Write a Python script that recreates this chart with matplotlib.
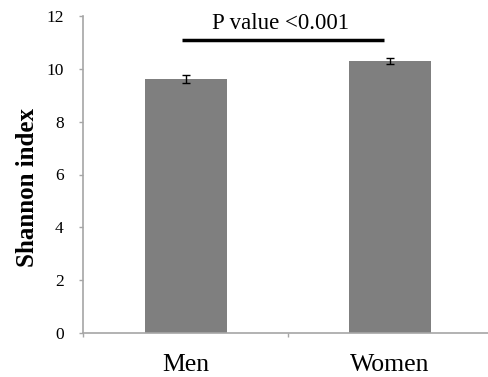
import matplotlib.pyplot as plt
import numpy as np

plt.rcParams['font.family'] = ['Liberation Serif', 'DejaVu Serif']

groups = ['Men', 'Women']
shannon = [9.6, 10.3]
err = [0.15, 0.12]
p_text = 'P value <0.001'

fig = plt.figure(figsize=(4.89, 3.77), dpi=100)
ax = fig.add_axes([83 / 489, 44 / 377, 406 / 489, 317 / 377])

x = np.arange(len(groups))
ax.bar(x, shannon, width=0.40, color='#7f7f7f', zorder=2)
ax.errorbar(x, shannon, yerr=err, fmt='none', ecolor='black',
            elinewidth=1.0, capsize=3, capthick=1.0, zorder=3)

# significance bar
ax.plot([-0.02, 0.97], [11.1, 11.1], color='black', lw=2.5,
        solid_capstyle='butt', clip_on=False)
ax.text(0.465, 11.3, p_text, ha='center', va='bottom', fontsize=16.5)

ax.set_xlim(-0.505, 1.485)
ax.set_ylim(0, 12)
ax.set_yticks(np.arange(0, 13, 2))
ax.set_xticks(x)
ax.set_xticklabels(groups, fontsize=18.5)
ax.set_xticks([-0.505, 0.5], minor=True)
ax.tick_params(axis='x', which='major', length=0, pad=15)
ax.tick_params(axis='x', which='minor', length=3, color='#a6a6a6', width=1)
ax.tick_params(axis='y', length=3, color='#a6a6a6', width=1,
               labelsize=12.5, pad=11)

for s in ['top', 'right']:
    ax.spines[s].set_visible(False)
for s in ['left', 'bottom']:
    ax.spines[s].set_color('#a6a6a6')
    ax.spines[s].set_linewidth(1.2)

ax.set_ylabel('Shannon index', fontsize=18, fontweight='bold')
ax.yaxis.set_label_coords(-0.108, 0.46)

fig.savefig('out.png', dpi=100)
